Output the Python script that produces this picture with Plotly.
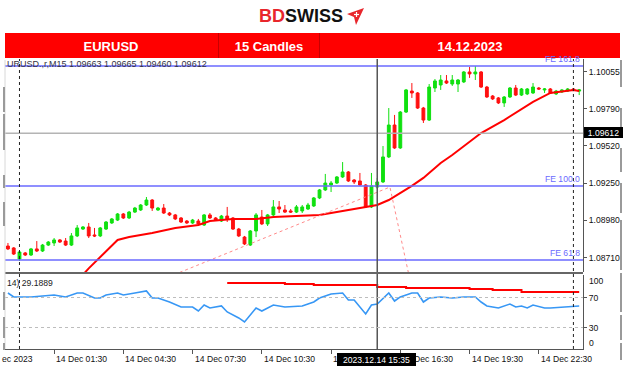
import plotly.graph_objects as go
import pandas as pd

# ---------------- data ----------------
candle_idx = list(range(-2, 98))  # 15-minute candles from 00:00 14 Dec 2023
opens = [1.08795, 1.08781, 1.08701, 1.08745, 1.08730, 1.08774, 1.08759, 1.08802, 1.08817, 1.08839,
         1.08831, 1.08802, 1.08868, 1.08918, 1.08933, 1.08875, 1.08868, 1.08918, 1.08962, 1.08983,
         1.09027, 1.08998, 1.09041, 1.09056, 1.09092, 1.09128, 1.09056, 1.09070, 1.09034, 1.09020,
         1.08998, 1.08976, 1.08962, 1.08976, 1.08947, 1.09020, 1.08998, 1.08976, 1.09012, 1.08998,
         1.08918, 1.08860, 1.08802, 1.08904, 1.09005, 1.08955, 1.09020, 1.09078, 1.09056, 1.09049,
         1.09041, 1.09049, 1.09063, 1.09085, 1.09143, 1.09201, 1.09237, 1.09251, 1.09295, 1.09331,
         1.09273, 1.09266, 1.09237, 1.09078, 1.09222, 1.09259, 1.09440, 1.09671, 1.09505, 1.09765,
         1.09917, 1.09903, 1.09794, 1.09707, 1.09939, 1.09961, 1.09990, 1.09968, 1.09968, 1.09983,
         1.10055, 1.10041, 1.10055, 1.09946, 1.09881, 1.09867, 1.09831, 1.09874, 1.09939, 1.09888,
         1.09896, 1.09903, 1.09939, 1.09925, 1.09932, 1.09896, 1.09910, 1.09917, 1.09932, 1.09917]
highs = [1.08817, 1.08788, 1.08759, 1.08752, 1.08781, 1.08831, 1.08810, 1.08831, 1.08853, 1.08846,
         1.08853, 1.08889, 1.08947, 1.08940, 1.08962, 1.08926, 1.08933, 1.08976, 1.08998, 1.09034,
         1.09034, 1.09049, 1.09078, 1.09099, 1.09150, 1.09135, 1.09078, 1.09099, 1.09041, 1.09027,
         1.09005, 1.08983, 1.08991, 1.08991, 1.09027, 1.09034, 1.09005, 1.09020, 1.09078, 1.09005,
         1.08926, 1.08868, 1.08911, 1.09034, 1.09056, 1.09027, 1.09128, 1.09121, 1.09092, 1.09063,
         1.09092, 1.09092, 1.09107, 1.09150, 1.09208, 1.09317, 1.09266, 1.09302, 1.09403, 1.09338,
         1.09280, 1.09324, 1.09244, 1.09324, 1.09288, 1.09519, 1.09794, 1.09744, 1.09772, 1.09932,
         1.09975, 1.09910, 1.09802, 1.09968, 1.10004, 1.10033, 1.10033, 1.10033, 1.10004, 1.10062,
         1.10091, 1.10098, 1.10062, 1.09954, 1.09888, 1.09874, 1.09881, 1.09946, 1.09961, 1.09939,
         1.09939, 1.09975, 1.09946, 1.09939, 1.09939, 1.09925, 1.09932, 1.09939, 1.09939, 1.09932]
lows = [1.08766, 1.08730, 1.08687, 1.08723, 1.08723, 1.08752, 1.08752, 1.08795, 1.08795, 1.08817,
        1.08795, 1.08795, 1.08860, 1.08911, 1.08853, 1.08860, 1.08860, 1.08911, 1.08955, 1.08976,
        1.08991, 1.08991, 1.09034, 1.09049, 1.09085, 1.09049, 1.09049, 1.09027, 1.09012, 1.08983,
        1.08962, 1.08955, 1.08955, 1.08940, 1.08940, 1.08991, 1.08976, 1.08969, 1.08969, 1.08911,
        1.08860, 1.08802, 1.08795, 1.08860, 1.08947, 1.08940, 1.09012, 1.09034, 1.09034, 1.09034,
        1.09034, 1.09034, 1.09056, 1.09078, 1.09135, 1.09193, 1.09186, 1.09244, 1.09288, 1.09259,
        1.09244, 1.09230, 1.09070, 1.09070, 1.09208, 1.09251, 1.09432, 1.09498, 1.09498, 1.09758,
        1.09867, 1.09787, 1.09686, 1.09700, 1.09910, 1.09925, 1.09968, 1.09954, 1.09910, 1.09975,
        1.10012, 1.09997, 1.09939, 1.09867, 1.09852, 1.09823, 1.09802, 1.09867, 1.09881, 1.09881,
        1.09888, 1.09896, 1.09925, 1.09903, 1.09896, 1.09888, 1.09903, 1.09910, 1.09917, 1.09888]
closes = [1.08774, 1.08737, 1.08752, 1.08730, 1.08774, 1.08759, 1.08802, 1.08824, 1.08839, 1.08824,
          1.08802, 1.08868, 1.08926, 1.08933, 1.08868, 1.08868, 1.08926, 1.08969, 1.08991, 1.09027,
          1.08998, 1.09041, 1.09070, 1.09092, 1.09128, 1.09070, 1.09070, 1.09034, 1.09020, 1.08991,
          1.08969, 1.08962, 1.08983, 1.08955, 1.09020, 1.08998, 1.08983, 1.09012, 1.08991, 1.08918,
          1.08868, 1.08810, 1.08904, 1.09020, 1.08955, 1.09020, 1.09078, 1.09063, 1.09041, 1.09041,
          1.09078, 1.09078, 1.09092, 1.09143, 1.09201, 1.09251, 1.09251, 1.09295, 1.09331, 1.09266,
          1.09259, 1.09237, 1.09078, 1.09230, 1.09259, 1.09440, 1.09671, 1.09505, 1.09765, 1.09925,
          1.09903, 1.09794, 1.09707, 1.09946, 1.09990, 1.09997, 1.09975, 1.09997, 1.09997, 1.10055,
          1.10041, 1.10055, 1.09946, 1.09874, 1.09860, 1.09831, 1.09874, 1.09939, 1.09888, 1.09932,
          1.09932, 1.09946, 1.09932, 1.09932, 1.09903, 1.09917, 1.09925, 1.09932, 1.09925, 1.09925]

ma_idx = [10, 12, 17, 19, 23, 27, 31, 33, 37, 41, 44, 48, 52, 54, 57, 60, 62, 64, 66, 68,
          70, 73, 75, 80, 84, 89, 92, 96, 97]
ma_vals = [1.08542, 1.08633, 1.08839, 1.08860, 1.08889, 1.08926, 1.08947, 1.08976, 1.08991, 1.08991,
           1.09005, 1.09012, 1.09020, 1.09034, 1.09056, 1.09078, 1.09092, 1.09128, 1.09179, 1.09230,
           1.09288, 1.09396, 1.09454, 1.09613, 1.09707, 1.09838, 1.09903, 1.09925, 1.09917]

rsi_idx = [-2, -1, 0, 2, 4, 6, 8, 10, 11, 13, 14, 15, 17, 18, 20, 22, 23, 24, 26, 28,
           30, 31, 32, 33, 35, 36, 38, 39, 41, 42, 44, 46, 49, 51, 52, 53, 54, 56, 57, 58,
           60, 61, 62, 64, 65, 66, 68, 69, 70, 71, 73, 75, 77, 79, 80, 81, 83, 85, 86, 87,
           88, 89, 91, 92, 94, 97]
rsi_vals = [76.0, 70.7, 70.7, 70.7, 72.0, 73.3, 70.7, 76.0, 76.0, 69.3, 69.3, 73.3, 76.0, 73.3, 76.0, 78.7, 69.3, 69.3, 64.0, 57.3,
            57.3, 52.0, 60.0, 56.0, 58.7, 50.7, 42.7, 37.3, 56.0, 52.0, 60.0, 57.3, 58.7, 64.0, 69.3, 72.0, 74.7, 76.0, 66.7, 66.7,
            48.0, 60.0, 61.3, 76.0, 65.3, 70.7, 76.0, 76.0, 64.0, 69.3, 70.7, 69.3, 70.7, 70.7, 64.0, 58.7, 56.0, 61.3, 57.3, 58.7,
            56.0, 60.0, 56.0, 56.0, 57.3, 58.7]

sig_idx = [36, 41, 46, 51, 57, 62, 67, 78, 82, 87, 97]
sig_vals = [89.3, 89.3, 88.0, 86.7, 86.7, 84.0, 82.7, 81.3, 80.0, 77.3, 77.3]

fe_idx = [-18.5, 64.2, 71.4]
fe_price = [1.07819, 1.09222, 1.07827]
fe_levels = [1.10098, 1.09230, 1.08694]
fe_names = ["FE 161.8", "FE 100.0", "FE 61.8"]

price_ticks = [1.10055, 1.09790, 1.09520, 1.09250, 1.08980, 1.08710]
time_tick_idx = [6, 18, 30, 42, 54, 66, 78, 90]
time_tick_text = ["14 Dec 01:30", "14 Dec 04:30", "14 Dec 07:30", "14 Dec 10:30",
                  "14 Dec 13:30", "14 Dec 16:30", "14 Dec 19:30", "14 Dec 22:30"]
cross_price = 1.09612
cross_idx = 62

base = pd.Timestamp("2023-12-14 00:00")
def T(i):
    return base + pd.Timedelta(minutes=15 * i)

times = [T(i) for i in candle_idx]

FONT = "Liberation Sans"
GREEN = "#10e010"
RED = "#ff1010"
BLUE_FE = "#6a6aff"

# px helpers for the paper layout (plot area: x 5..583, y 59..349)
def px_x(x):
    return (x - 5) / 578.0
def px_y(y):
    return (349 - y) / 290.0

fig = go.Figure()

fig.add_trace(go.Candlestick(
    x=times, open=opens, high=highs, low=lows, close=closes,
    increasing=dict(line=dict(color=GREEN, width=1), fillcolor=GREEN),
    decreasing=dict(line=dict(color=RED, width=1), fillcolor=RED),
    whiskerwidth=0, xaxis="x", yaxis="y", hoverinfo="skip", showlegend=False))

fig.add_trace(go.Scatter(x=[T(i) for i in ma_idx], y=ma_vals, mode="lines",
                         line=dict(color="#ff0000", width=2), xaxis="x", yaxis="y",
                         hoverinfo="skip", showlegend=False))

fig.add_trace(go.Scatter(x=[T(i) for i in fe_idx], y=fe_price, mode="lines",
                         line=dict(color="#ff8a8a", width=1, dash="dot"), xaxis="x", yaxis="y",
                         hoverinfo="skip", showlegend=False))

fig.add_trace(go.Scatter(x=[T(i) for i in rsi_idx], y=rsi_vals, mode="lines",
                         line=dict(color="#3797f5", width=1.6), xaxis="x", yaxis="y2",
                         hoverinfo="skip", showlegend=False))
fig.add_trace(go.Scatter(x=[T(i) for i in sig_idx], y=sig_vals, mode="lines",
                         line=dict(color="#ff0000", width=2, shape="hv"), xaxis="x", yaxis="y2",
                         hoverinfo="skip", showlegend=False))

shapes = []
annotations = []

def note(text, x, y, size=8.6, color="#111111", xa="center", ya="middle", family=FONT, **kw):
    d = dict(text=text, x=x, y=y, xref=kw.pop("xref", "paper"), yref=kw.pop("yref", "paper"),
             xanchor=xa, yanchor=ya, showarrow=False,
             font=dict(family=family, size=size, color=color))
    d.update(kw)
    annotations.append(d)

def box(xc, yc, w, h, color, text=" ", size=8.6, tcolor="white", bold=False):
    note(f"<b>{text}</b>" if bold else text, px_x(xc), px_y(yc), size=size, color=tcolor,
         bgcolor=color, width=w, height=h, borderpad=0, borderwidth=0)

# chart title text (its top is hidden by the header bar drawn after it)
note("URUSD.,r,M15 1.09663 1.09665 1.09460 1.09612", px_x(5), px_y(64), size=9, color="#333344", xa="left")

# header red bar and its cells
box(312.5, 45.5, 615, 25, "#ff0000")
for xb in [218, 319]:
    box(xb, 45.5, 1, 25, "#c80000")
box(111, 46, 120, 16, "#ff0000", "EURUSD", size=13, bold=True)
box(269, 46, 90, 16, "#ff0000", "15 Candles", size=13, bold=True)
box(470, 46, 100, 16, "#ff0000", "14.12.2023", size=13, bold=True)
note("<b><span style='color:#e8262c'>BD</span><span style='color:#111111'>SWISS</span></b>",
     px_x(345), px_y(16), size=18, xa="right")

# logo icon (red arrow with small white cross)
def P(x, y):
    return f"{px_x(x):.5f},{px_y(y):.5f}"
shapes.append(dict(type="path", xref="paper", yref="paper",
                   path=f"M {P(347, 14)} L {P(364, 8)} L {P(356, 25)} L {P(354, 17)} Z",
                   fillcolor="#e8262c", line=dict(width=0), layer="above"))
shapes.append(dict(type="line", xref="paper", yref="paper", x0=px_x(354), x1=px_x(359),
                   y0=px_y(14.5), y1=px_y(14.5), line=dict(color="white", width=1.2), layer="above"))
shapes.append(dict(type="line", xref="paper", yref="paper", x0=px_x(356.5), x1=px_x(356.5),
                   y0=px_y(12), y1=px_y(17), line=dict(color="white", width=1.2), layer="above"))

# FE levels
for lvl, name in zip(fe_levels, fe_names):
    shapes.append(dict(type="line", xref="paper", yref="y", x0=0, x1=1, y0=lvl, y1=lvl,
                       line=dict(color=BLUE_FE, width=1.5)))
    note(name, px_x(582), lvl, color=BLUE_FE, xa="right", ya="bottom", yref="y")

# crosshair
shapes.append(dict(type="line", xref="paper", yref="y", x0=0, x1=1, y0=cross_price, y1=cross_price,
                   line=dict(color="#b4b4b4", width=1.5)))
shapes.append(dict(type="line", xref="x", yref="paper", x0=T(cross_idx), x1=T(cross_idx),
                   y0=0, y1=1, line=dict(color="#555555", width=1.5)))
# day separators
for di in [0, 96]:
    shapes.append(dict(type="line", xref="x", yref="paper", x0=T(di), x1=T(di), y0=0, y1=1,
                       line=dict(color="#222222", width=1, dash="dot")))
# RSI levels
for lv in [70, 30]:
    shapes.append(dict(type="line", xref="paper", yref="y2", x0=0, x1=1, y0=lv, y1=lv,
                       line=dict(color="#bdbdbd", width=1, dash="dot")))
# panel separator
shapes.append(dict(type="line", xref="paper", yref="paper", x0=0, x1=px_x(583), y0=px_y(273), y1=px_y(273),
                   line=dict(color="#666666", width=2)))
# left border
shapes.append(dict(type="line", xref="paper", yref="paper", x0=0, x1=0, y0=0, y1=px_y(60),
                   line=dict(color="#d8d8d8", width=1)))
# window edge bars
for (a, b) in [(87, 112), (114, 150), (175, 188), (202, 226), (292, 310), (317, 338), (343, 350)]:
    shapes.append(dict(type="line", xref="paper", yref="paper", x0=px_x(4), x1=px_x(4),
                       y0=px_y(a), y1=px_y(b), line=dict(color="#9a9a9a", width=2)))
for (a, b) in [(60, 87), (108, 138), (148, 172), (183, 213), (220, 270), (273, 312), (315, 340), (343, 360)]:
    shapes.append(dict(type="line", xref="paper", yref="paper", x0=px_x(621), x1=px_x(621),
                       y0=px_y(a), y1=px_y(b), line=dict(color="#9a9a9a", width=2)))

# texts
note("14) 29.1889", px_x(5), px_y(283), color="#222222", xa="left")
note("100", px_x(587), px_y(281), xa="left")
note("0", px_x(587), px_y(343), xa="left")

note("ec 2023", px_x(0), px_y(352), xa="left", ya="top")
for ti, tt in zip(time_tick_idx, time_tick_text):
    note(tt, T(ti), px_y(352), xa="left", ya="top", xref="x")

# crosshair labels (drawn last so they cover the tick labels)
box(603.5, 132.5, 39, 11, "#000000", "1.09612")
box(376.5, 359.5, 79, 13, "#000000", "2023.12.14 15:35")

fig.update_layout(
    width=624, height=367,
    margin=dict(l=5, r=41, t=59, b=18),
    paper_bgcolor="white", plot_bgcolor="white",
    showlegend=False, hovermode=False,
    shapes=shapes,
    annotations=annotations,
    xaxis=dict(type="date", range=[T(-2.51), T(97.66)], anchor="y2",
               rangeslider=dict(visible=False), showgrid=False, zeroline=False,
               showline=True, linecolor="#555555", linewidth=1,
               tickvals=[T(i) for i in time_tick_idx], showticklabels=False,
               ticks="outside", ticklen=4, tickcolor="#555555"),
    yaxis=dict(domain=[px_y(272), 1], range=[1.08607, 1.10149], side="right", anchor="x",
               showgrid=False, zeroline=False, showline=True, linecolor="#555555", linewidth=1,
               tickvals=price_ticks, ticktext=[f"{v:.5f}" for v in price_ticks],
               ticks="outside", ticklen=3, tickcolor="#555555",
               tickfont=dict(family=FONT, size=8.6, color="#111111")),
    yaxis2=dict(domain=[0, px_y(275)], range=[1.33, 100], side="right", anchor="x",
                showgrid=False, zeroline=False, showline=True, linecolor="#555555", linewidth=1,
                tickvals=[70, 30], ticktext=["70", "30"],
                ticks="outside", ticklen=3, tickcolor="#555555",
                tickfont=dict(family=FONT, size=8.6, color="#111111")),
)

fig.write_html("out.html", config={"displayModeBar": False},
               post_script="document.body.style.margin='0';document.body.style.overflow='hidden';")
